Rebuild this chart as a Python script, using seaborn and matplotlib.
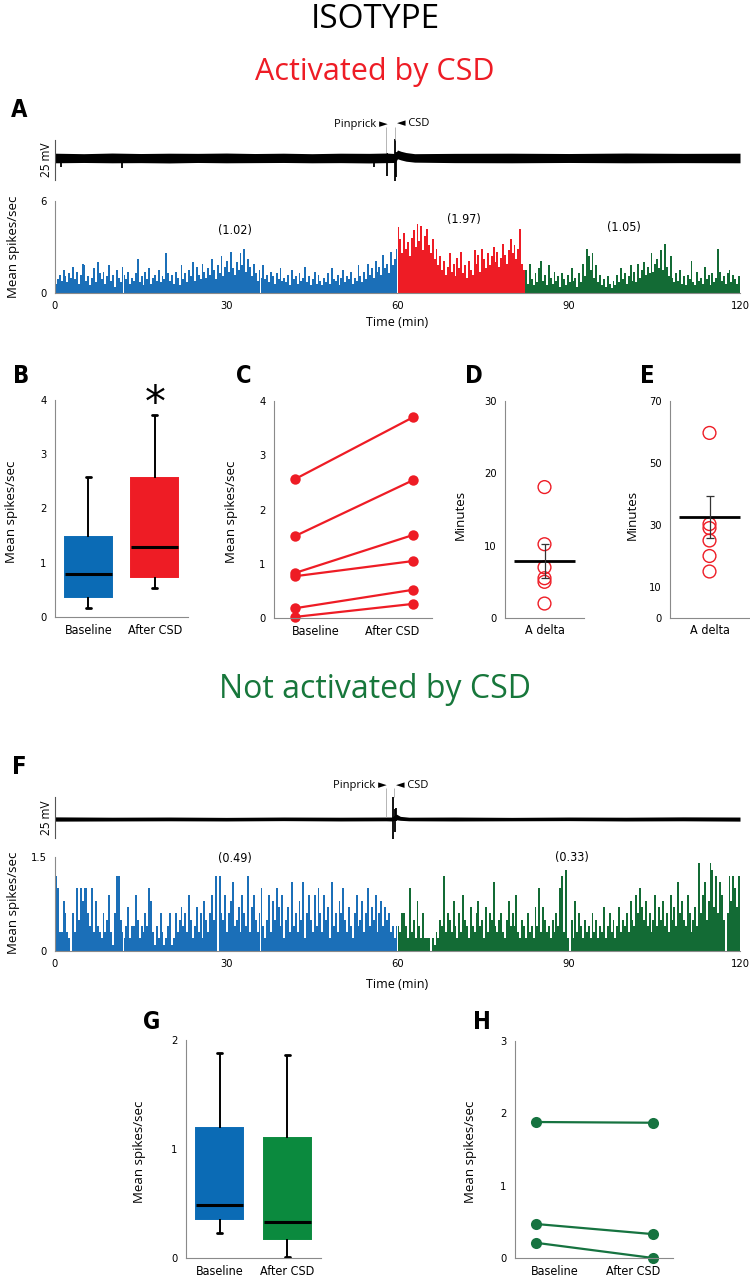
import numpy as np
import pandas as pd
import matplotlib
matplotlib.use("Agg")
import matplotlib.pyplot as plt
import seaborn as sns
from matplotlib import font_manager as fm

# ---------------------------------------------------------------- data
BIN = 1 / 3  # histogram bin width (min)

histA_baseline = [
    0.6, 0.9, 1.2, 0.8, 1.5, 1.1, 0.7, 1.3, 1.0, 1.7, 0.9, 1.4, 0.6, 1.2, 1.9, 1.8, 0.8, 1.1, 0.5, 1.0,
    1.6, 0.7, 2.0, 1.3, 0.9, 1.4, 0.6, 1.1, 1.8, 0.8, 1.2, 0.4, 1.5, 1.0, 0.7, 1.7, 1.2, 0.9, 1.4, 0.6,
    1.0, 0.8, 1.3, 2.2, 0.7, 1.1, 0.5, 1.4, 0.9, 1.6, 0.6, 1.0, 1.2, 0.8, 1.5, 0.7, 1.1, 0.9, 2.6, 1.3,
    0.8, 1.2, 0.6, 1.4, 1.0, 0.5, 1.8, 0.9, 1.3, 0.7, 1.5, 1.1, 2.0, 0.8, 1.7, 1.2, 0.9, 1.9, 1.4, 1.0,
    1.6, 1.2, 2.2, 1.5, 0.9, 1.8, 1.3, 2.4, 1.1, 1.7, 2.1, 1.4, 2.7, 1.6, 1.2, 2.0, 1.5, 2.6, 1.8, 2.9,
    1.4, 2.2, 1.7, 1.1, 1.9, 1.3, 0.8, 1.5, 1.0, 1.8, 0.9, 1.2, 0.7, 1.4, 1.1, 0.6, 1.3, 0.9, 1.6, 0.8,
    1.0, 0.7, 1.2, 0.5, 1.5, 0.9, 1.1, 0.6, 1.3, 0.8, 1.0, 1.7, 0.7, 1.1, 0.5, 0.9, 1.4, 0.6, 1.2, 0.8,
    0.5, 1.0, 0.7, 1.3, 0.6, 1.6, 0.9, 0.8, 1.2, 0.5, 1.0, 1.5, 0.7, 1.1, 0.9, 1.4, 0.6, 1.0, 0.8, 1.8,
    1.1, 0.7, 1.4, 0.9, 1.9, 1.2, 1.6, 1.0, 2.1, 1.4, 1.7, 1.2, 2.5, 1.6, 1.9, 1.3, 2.7, 1.8, 2.2, 2.9,
]
histA_csd = [
    4.3, 3.5, 2.6, 3.9, 2.9, 3.3, 2.4, 3.6, 4.1, 3.0, 4.5, 3.4, 4.4, 2.8, 3.7, 4.2, 3.1, 2.6, 3.5, 2.2,
    2.9, 1.8, 2.4, 1.5, 2.1, 1.2, 1.7, 2.6, 1.4, 1.9, 1.1, 2.3, 1.6, 2.7, 1.3, 1.8, 1.0, 2.1, 1.5, 1.2,
    2.8, 1.9, 2.5, 1.4, 2.9, 2.2, 1.6, 2.6, 1.8, 2.4, 3.0, 2.0, 2.7, 1.7, 2.3, 3.2, 2.5, 1.9, 2.8, 3.5,
    2.6, 3.1, 2.2, 2.9, 4.2, 1.9, 1.5,
]
histA_after = [
    1.5, 0.6, 1.9, 0.9, 0.5, 1.3, 0.7, 1.6, 2.1, 0.8, 1.2, 0.5, 1.8, 1.0, 0.6, 1.4, 0.8, 1.1, 0.4, 1.3,
    0.9, 0.5, 1.2, 0.7, 1.6, 0.8, 1.0, 0.4, 1.3, 0.7, 1.9, 1.1, 2.9, 2.4, 1.5, 2.6, 1.0, 1.8, 0.7, 1.2,
    0.5, 0.9, 0.4, 1.1, 0.6, 0.3, 0.8, 0.5, 1.2, 0.7, 1.6, 0.9, 1.3, 0.6, 1.1, 1.8, 0.8, 1.4, 0.7, 1.9,
    1.0, 1.5, 2.0, 1.2, 1.7, 1.3, 2.6, 1.4, 1.9, 2.2, 1.6, 2.8, 1.5, 3.2, 1.7, 1.1, 2.4, 1.0, 0.7, 1.3,
    0.8, 1.5, 0.6, 1.1, 0.5, 1.2, 0.9, 2.1, 0.7, 0.5, 1.4, 0.8, 1.0, 0.6, 1.7, 0.9, 1.2, 0.5, 1.3, 0.7,
    1.0, 2.9, 1.4, 0.8, 1.1, 0.6, 1.3, 1.5, 0.7, 1.2, 0.9, 0.6, 1.1,
]
histF_baseline = [
    1.2, 1.0, 0.3, 0.3, 0.8, 0.6, 0.3, 0.2, 0.0, 0.6, 0.3, 1.0, 0.5, 1.0, 0.8, 1.0, 1.0, 0.6, 0.4, 1.0,
    0.3, 0.8, 0.4, 0.3, 0.2, 0.6, 0.3, 0.5, 0.9, 0.3, 0.1, 0.6, 1.2, 1.2, 0.5, 0.3, 0.2, 0.4, 0.7, 0.2,
    0.4, 0.4, 0.9, 0.5, 0.2, 0.4, 0.3, 0.6, 0.4, 1.0, 0.8, 0.3, 0.1, 0.4, 0.2, 0.6, 0.3, 0.1, 0.2, 0.4,
    0.6, 0.1, 0.2, 0.6, 0.3, 0.5, 0.7, 0.4, 0.6, 0.3, 0.9, 0.5, 0.2, 0.4, 0.7, 0.3, 0.6, 0.2, 0.8, 0.5,
    0.3, 0.6, 0.9, 0.5, 1.2, 0.0, 1.2, 0.6, 0.5, 0.9, 0.3, 0.6, 0.8, 1.1, 0.4, 0.5, 0.7, 0.3, 0.9, 0.6,
    0.4, 1.2, 0.3, 0.7, 0.9, 0.5, 0.3, 0.6, 1.0, 0.4, 0.2, 0.5, 0.9, 0.3, 0.8, 0.5, 1.0, 0.7, 0.4, 0.9,
    0.2, 0.5, 0.7, 0.3, 1.1, 0.4, 0.6, 0.3, 0.8, 0.5, 1.1, 0.2, 0.6, 0.9, 0.5, 0.3, 0.9, 0.4, 1.0, 0.6,
    0.3, 0.9, 0.5, 0.7, 0.2, 1.1, 0.4, 0.6, 0.3, 0.8, 0.6, 1.0, 0.5, 0.3, 0.7, 0.4, 0.2, 0.6, 0.9, 0.4,
    0.5, 0.8, 0.3, 0.6, 1.0, 0.4, 0.7, 0.5, 0.9, 0.3, 0.6, 0.8, 0.4, 0.7, 0.5, 0.6, 0.3, 0.4, 0.2, 0.4,
]
histF_after = [
    0.4, 0.3, 0.6, 0.6, 0.4, 0.2, 1.0, 0.3, 0.5, 0.2, 0.8, 0.4, 0.2, 0.6, 0.2, 0.2, 0.2, 0.0, 0.2, 0.1,
    0.3, 0.2, 0.5, 0.4, 1.2, 0.3, 0.6, 0.5, 0.3, 0.8, 0.4, 0.2, 0.6, 0.3, 0.9, 0.5, 0.4, 0.2, 0.7, 0.4,
    0.3, 0.6, 0.8, 0.4, 0.5, 0.2, 0.7, 0.3, 0.6, 0.5, 1.1, 0.4, 0.3, 0.5, 0.6, 0.3, 0.2, 0.5, 0.8, 0.4,
    0.6, 0.4, 0.9, 0.3, 0.2, 0.5, 0.4, 0.2, 0.6, 0.3, 0.4, 0.2, 0.7, 0.4, 1.0, 0.3, 0.7, 0.5, 0.3, 0.4,
    0.2, 0.5, 0.3, 0.6, 0.4, 1.0, 1.2, 0.3, 1.3, 0.2, 0.0, 0.5, 0.2, 0.8, 0.3, 0.6, 0.4, 0.2, 0.5, 0.3,
    0.4, 0.2, 0.6, 0.3, 0.5, 0.2, 0.4, 0.3, 0.7, 0.2, 0.4, 0.6, 0.3, 0.5, 0.2, 0.4, 0.7, 0.3, 0.5, 0.4,
    0.6, 0.3, 0.8, 0.5, 0.4, 0.9, 0.6, 1.0, 0.7, 0.5, 0.8, 0.4, 0.6, 0.3, 0.5, 0.9, 0.4, 0.7, 0.5, 0.8,
    0.4, 0.6, 0.3, 0.9, 0.5, 0.7, 0.4, 1.1, 0.6, 0.8, 0.5, 0.4, 0.9, 0.6, 0.3, 0.5, 0.7, 0.4, 1.4, 0.6,
    0.9, 1.1, 0.5, 0.8, 1.4, 1.3, 0.7, 1.2, 0.6, 1.1, 0.9, 0.5, 0.0, 0.6, 1.2, 0.8, 1.2, 1.0, 0.7, 1.2,
]
histA_labels = ["(1.02)", "(1.97)", "(1.05)"]
histA_label_t = [31.5, 71.6, 99.7]
histA_label_y = [4.05, 4.8, 4.3]
histF_labels = ["(0.49)", "(0.33)"]
histF_label_t = [31.5, 90.6]
histF_label_y = [1.47, 1.5]

# raw voltage traces: envelope of the noise band + single deflections (mV)
traceA_t = [0, 5, 10, 15, 20, 25, 30, 35, 40, 45, 50, 55, 58, 59.6, 60.0, 60.6, 61.5, 63, 70, 80, 90, 100, 110, 120]
traceA_hi = [3.0, 2.7, 3.1, 2.8, 3.0, 2.9, 3.1, 2.8, 3.0, 2.7, 3.0, 2.9, 3.1, 2.8, 5.0, 4.2, 3.4, 2.7, 2.9, 3.0, 2.8, 3.1, 2.9, 3.0]
traceA_lo = [-3.0, -2.8, -3.0, -2.9, -3.1, -2.8, -3.0, -2.9, -2.8, -3.0, -2.9, -3.1, -2.9, -2.8, -0.5, -1.2, -2.0, -2.6, -2.9, -3.0, -2.8, -3.0, -2.9, -3.0]
spikeA_t = [1.1, 11.7, 55.9, 58.2, 59.5, 59.8]
spikeA_lo = [-5.6, -6.0, -5.6, -11.5, -14.4, -12.0]
spikeA_hi = [0.0, 0.0, 0.0, 3.0, 11.9, 4.0]

traceF_t = [0, 10, 20, 30, 40, 50, 58, 59.0, 59.8, 60.5, 62, 70, 80, 90, 100, 110, 120]
traceF_hi = [1.3, 1.1, 1.2, 1.0, 1.2, 1.1, 1.2, 1.2, 3.0, 1.6, 1.1, 1.2, 1.0, 1.2, 1.1, 1.3, 1.2]
traceF_lo = [-1.3, -1.2, -1.1, -1.2, -1.0, -1.2, -1.1, -1.2, -0.5, -0.8, -1.1, -1.2, -1.1, -1.0, -1.2, -1.1, -1.3]
spikeF_t = [59.2, 59.5, 59.8]
spikeF_lo = [-12.2, -8.0, -1.0]
spikeF_hi = [13.4, 6.0, 6.7]

event_names = ["Pinprick \u25BA", "\u25C4 CSD"]
eventA_t = [58.0, 59.6]
eventF_t = [57.9, 59.4]

conditions = ["Baseline", "After CSD"]
# five-number summaries: whisker low, Q1, median, Q3, whisker high
B_baseline = [0.16, 0.37, 0.79, 1.47, 2.58]
B_after = [0.53, 0.74, 1.29, 2.57, 3.73]
C_baseline = [2.56, 1.51, 0.83, 0.77, 0.18, 0.02]
C_after = [3.70, 2.54, 1.53, 1.05, 0.52, 0.26]
D_minutes = [18.1, 10.2, 7.0, 5.5, 5.0, 2.0]
D_mean, D_sem = 7.9, 2.35
E_minutes = [59.7, 30.3, 29.0, 25.0, 20.0, 15.0]
E_mean, E_sem = 32.6, 6.8
fiber = "A delta"
G_baseline = [0.23, 0.36, 0.49, 1.19, 1.88]
G_after = [0.01, 0.17, 0.33, 1.10, 1.86]
H_baseline = [1.88, 0.47, 0.21]
H_after = [1.87, 0.33, 0.00]

# ---------------------------------------------------------------- style
sns.set_theme(style="white")
names = {f.name for f in fm.fontManager.ttflist}
MAIN = "Open Sans" if "Open Sans" in names else "DejaVu Sans"
_cond_path = fm.findfont(fm.FontProperties(family="DejaVu Sans", stretch="condensed"))
if "Condensed" in _cond_path:
    plt.rcParams["font.family"] = ["DejaVu Sans"]
    plt.rcParams["font.stretch"] = "condensed"
    TICK_FS, CAT_FS, NOTE_FS = 8.0, 9.0, 9.0
elif "Liberation Sans Narrow" in names:
    plt.rcParams["font.family"] = ["Liberation Sans Narrow", "DejaVu Sans"]
    TICK_FS, CAT_FS, NOTE_FS = 8.5, 10.0, 9.5
else:
    plt.rcParams["font.family"] = ["Liberation Sans", "DejaVu Sans"]
    TICK_FS, CAT_FS, NOTE_FS = 8.0, 9.0, 9.0
plt.rcParams["text.color"] = "black"
plt.rcParams["axes.labelcolor"] = "black"
plt.rcParams["xtick.labelcolor"] = "black"
plt.rcParams["ytick.labelcolor"] = "black"

BLUE_H = "#1B6FB8"
BLUE_BOX = "#0B6BB5"
RED = "#EE1C25"
GREEN_H = "#136B35"
GREEN_BOX = "#0B8A3E"
GREEN_T = "#17773B"
GREEN_L = "#167340"
SPINE = "#8a8a8a"

W, H = 750, 1280
fig = plt.figure(figsize=(W / 100, H / 100), dpi=100)


def rect(l, t, r, b):
    return [l / W, 1 - b / H, (r - l) / W, (b - t) / H]


def ftext(x, y, s, **kw):
    kw.setdefault("ha", "center")
    kw.setdefault("va", "center")
    kw.setdefault("color", "black")
    fig.text(x / W, 1 - y / H, s, **kw)


def style(ax):
    sns.despine(ax=ax)
    for s in ["left", "bottom"]:
        ax.spines[s].set_color(SPINE)
        ax.spines[s].set_linewidth(0.8)
    ax.tick_params(which="both", direction="out", color=SPINE, width=0.8,
                   length=4, labelsize=TICK_FS, pad=2, labelcolor="black")
    ax.set_xlabel("")
    ax.set_ylabel("")
    ax.patch.set_alpha(0)


def cat_axis(ax, bounds, label_pos, labels, xlim):
    ax.set_xlim(*xlim)
    ax.set_xticks(bounds)
    ax.set_xticklabels([""] * len(bounds))
    ax.set_xticks(label_pos, minor=True)
    ax.set_xticklabels(labels, minor=True)
    ax.tick_params(axis="x", which="major", length=6)
    ax.tick_params(axis="x", which="minor", length=0, labelsize=CAT_FS, pad=5)


def draw_hist(ax, start, vals, color):
    vals = np.asarray(vals, float)
    n = len(vals)
    centers = start + BIN * (np.arange(n) + 0.5)
    df = pd.DataFrame({"t": centers, "rate": vals})
    sns.histplot(data=df, x="t", weights="rate", binwidth=BIN,
                 binrange=(start, start + n * BIN), color=color, alpha=1,
                 linewidth=0, ax=ax)
    return start + n * BIN


def draw_trace(ax, t, hi, lo, st, slo, shi, ylim, bar, ev_t, ev_y, ev_low):
    ax.fill_between(t, lo, hi, color="black", lw=0)
    ax.vlines(st, slo, shi, color="black", lw=1.3)
    ax.set_xlim(0, 120)
    ax.set_ylim(*ylim)
    for s in ["top", "right", "bottom"]:
        ax.spines[s].set_visible(False)
    ax.spines["left"].set_bounds(*bar)
    ax.spines["left"].set_color("#555")
    ax.spines["left"].set_linewidth(0.8)
    ax.set_yticks(list(bar))
    ax.set_yticklabels(["", ""])
    ax.tick_params(axis="y", length=3, color="#555", direction="out")
    ax.set_xticks([])
    ax.patch.set_alpha(0)
    ax.vlines(ev_t, ev_low, [ev_y - 2, ev_y - 2], color="#aaaaaa", lw=0.6)
    ax.text(ev_t[0] + 0.2, ev_y, event_names[0], ha="right", va="center", fontsize=8,
            family=[MAIN, "DejaVu Sans"], stretch="normal", color="black")
    ax.text(ev_t[1] + 0.3, ev_y, event_names[1], ha="left", va="center", fontsize=8,
            family=[MAIN, "DejaVu Sans"], stretch="normal", color="black")


def box_panel(ax, base, after, colors):
    df = pd.DataFrame({"cond": np.repeat(conditions, 5), "val": list(base) + list(after)})
    sns.boxplot(data=df, x="cond", y="val", hue="cond", palette=colors, whis=(0, 100),
                width=0.7, showfliers=False, legend=False, linecolor="black", saturation=1,
                linewidth=1.4, medianprops=dict(color="black", lw=2.2), ax=ax)
    for p in ax.patches:
        p.set_edgecolor(p.get_facecolor())
    for ln in ax.lines:
        x = np.asarray(ln.get_xdata(), float)
        y = np.asarray(ln.get_ydata(), float)
        if len(x) == 2 and y[0] == y[1] and abs(x[1] - x[0]) < 0.6 and abs(x[1] - x[0]) > 0:
            c = x.mean()
            ln.set_xdata([c - 0.04, c + 0.04])
            ln.set_linewidth(2.0)


def dot_panel(ax, vals, mean, sem, ylim, yticks):
    sns.scatterplot(x=np.zeros(len(vals)), y=vals, s=85, marker="o", ax=ax, color=RED)
    for coll in ax.collections:
        coll.set_facecolor("none")
        coll.set_edgecolor(RED)
        coll.set_linewidth(1.0)
    ax.hlines(mean, -0.77, 0.77, color="black", lw=2.0)
    ax.errorbar([0], [mean], yerr=[sem], color="#333333", lw=0.9, capsize=3, capthick=0.9)
    style(ax)
    ax.set_ylim(*ylim)
    ax.set_yticks(yticks)
    ax.set_xlim(-1, 1)
    ax.set_xticks([-1, 1])
    ax.set_xticklabels(["", ""])
    ax.set_xticks([0], minor=True)
    ax.set_xticklabels([fiber], minor=True)
    ax.tick_params(axis="x", which="major", length=6)
    ax.tick_params(axis="x", which="minor", length=0, labelsize=CAT_FS, pad=4)


LAB = dict(family=MAIN, stretch="normal")

# ---------------------------------------------------------------- titles
ftext(375, 20, "ISOTYPE", fontsize=24, **LAB)
ftext(375, 72, "Activated by CSD", fontsize=22, color=RED, **LAB)
ftext(375, 690, "Not activated by CSD", fontsize=23, color=GREEN_T, **LAB)
for lab, x, y in [("A", 19, 110), ("B", 21, 376), ("C", 244, 376), ("D", 474, 376),
                  ("E", 647, 376), ("F", 19, 767), ("G", 152, 1022), ("H", 482, 1022)]:
    ftext(x, y, lab, fontsize=17, fontweight="bold")

# ---------------------------------------------------------------- A
ax = fig.add_axes(rect(55, 112, 740, 192))
draw_trace(ax, traceA_t, traceA_hi, traceA_lo, spikeA_t, spikeA_lo, spikeA_hi,
           (-21.25, 28.75), (-14.0, 11.0), eventA_t, 21.25, [3.0, 11.5])
ftext(47, 160, "25 mV", rotation=90, fontsize=8.5, **LAB)

ax = fig.add_axes(rect(55, 201, 740, 293))
end = draw_hist(ax, 0, histA_baseline, BLUE_H)
end = draw_hist(ax, 60, histA_csd, RED)
draw_hist(ax, end, histA_after, GREEN_H)
style(ax)
ax.set_xlim(0, 120)
ax.set_ylim(0, 6)
ax.set_xticks([0, 30, 60, 90, 120])
ax.set_yticks([0, 3, 6])
ax.set_yticklabels(["0", "", "6"])
for s, t, y in zip(histA_labels, histA_label_t, histA_label_y):
    ax.text(t, y, s, ha="center", va="center", fontsize=NOTE_FS, color="black")
ftext(14, 247, "Mean spikes/sec", rotation=90, fontsize=9.5, **LAB)
ftext(397, 322, "Time (min)", fontsize=9, **LAB)

# ---------------------------------------------------------------- B
ax = fig.add_axes(rect(55, 400, 188, 617))
box_panel(ax, B_baseline, B_after, [BLUE_BOX, RED])
style(ax)
ax.set_ylim(0, 4)
ax.set_yticks([0, 1, 2, 3, 4])
cat_axis(ax, [-0.5, 0.5, 1.5], [0, 1], conditions, (-0.5, 1.5))
ax.text(1, 3.93, "*", ha="center", va="center", fontsize=30, family="DejaVu Sans",
        stretch="normal", clip_on=False, color="black")
ftext(12, 512, "Mean spikes/sec", rotation=90, fontsize=9.5, **LAB)

# ---------------------------------------------------------------- C
ax = fig.add_axes(rect(274, 401, 432, 618))
n = len(C_baseline)
dfC = pd.DataFrame({"cell": list(range(n)) * 2,
                    "pos": [0] * n + [1] * n,
                    "val": C_baseline + C_after})
sns.lineplot(data=dfC, x="pos", y="val", units="cell", estimator=None, color=RED,
             marker="o", markersize=7.5, markeredgewidth=0, linewidth=1.6, ax=ax)
style(ax)
ax.set_ylim(0, 4)
ax.set_yticks([0, 1, 2, 3, 4])
cat_axis(ax, [-0.178, 0.51, 1.161], [0.18, 0.82], conditions, (-0.178, 1.161))
for ln in ax.lines:
    ln.set_clip_on(False)
ftext(231, 512, "Mean spikes/sec", rotation=90, fontsize=9.5, **LAB)

# ---------------------------------------------------------------- D, E
ax = fig.add_axes(rect(505, 401, 584, 618))
dot_panel(ax, D_minutes, D_mean, D_sem, (0, 30), [0, 10, 20, 30])
ftext(460, 515, "Minutes", rotation=90, fontsize=9.5, **LAB)

ax = fig.add_axes(rect(670, 401, 749, 618))
dot_panel(ax, E_minutes, E_mean, E_sem, (0, 70), [0, 10, 30, 50, 70])
ftext(632, 515, "Minutes", rotation=90, fontsize=9.5, **LAB)

# ---------------------------------------------------------------- F
ax = fig.add_axes(rect(55, 775, 740, 850))
draw_trace(ax, traceF_t, traceF_hi, traceF_lo, spikeF_t, spikeF_lo, spikeF_hi,
           (-18.9, 26.83), (-11.6, 13.4), eventF_t, 20.7, [1.2, 13.4])
ftext(47, 818, "25 mV", rotation=90, fontsize=8.5, **LAB)

ax = fig.add_axes(rect(55, 857, 740, 951))
draw_hist(ax, 0, histF_baseline, BLUE_H)
draw_hist(ax, 60, histF_after, GREEN_H)
style(ax)
ax.set_xlim(0, 120)
ax.set_ylim(0, 1.5)
ax.set_xticks([0, 30, 60, 90, 120])
ax.set_yticks([0, 0.75, 1.5])
ax.set_yticklabels(["0", "", "1.5"])
for s, t, y in zip(histF_labels, histF_label_t, histF_label_y):
    ax.text(t, y, s, ha="center", va="center", fontsize=NOTE_FS, color="black")
ftext(14, 903, "Mean spikes/sec", rotation=90, fontsize=9.5, **LAB)
ftext(397, 985, "Time (min)", fontsize=9, **LAB)

# ---------------------------------------------------------------- G
ax = fig.add_axes(rect(186, 1040, 321, 1258))
box_panel(ax, G_baseline, G_after, [BLUE_BOX, GREEN_BOX])
style(ax)
ax.set_ylim(0, 2)
ax.set_yticks([0, 1, 2])
cat_axis(ax, [-0.5, 0.5, 1.5], [0, 1], conditions, (-0.5, 1.5))
ftext(139, 1152, "Mean spikes/sec", rotation=90, fontsize=9.5, **LAB)

# ---------------------------------------------------------------- H
ax = fig.add_axes(rect(515, 1041, 673, 1258))
m = len(H_baseline)
dfH = pd.DataFrame({"cell": list(range(m)) * 2,
                    "pos": [0] * m + [1] * m,
                    "val": H_baseline + H_after})
sns.lineplot(data=dfH, x="pos", y="val", units="cell", estimator=None, color=GREEN_L,
             marker="o", markersize=8, markeredgewidth=0, linewidth=1.6, ax=ax)
style(ax)
ax.set_ylim(0, 3)
ax.set_yticks([0, 1, 2, 3])
cat_axis(ax, [-0.18, 0.51, 1.17], [0.16, 0.83], conditions, (-0.18, 1.17))
for ln in ax.lines:
    ln.set_clip_on(False)
ftext(470, 1152, "Mean spikes/sec", rotation=90, fontsize=9.5, **LAB)

fig.savefig("out.png", dpi=100)
